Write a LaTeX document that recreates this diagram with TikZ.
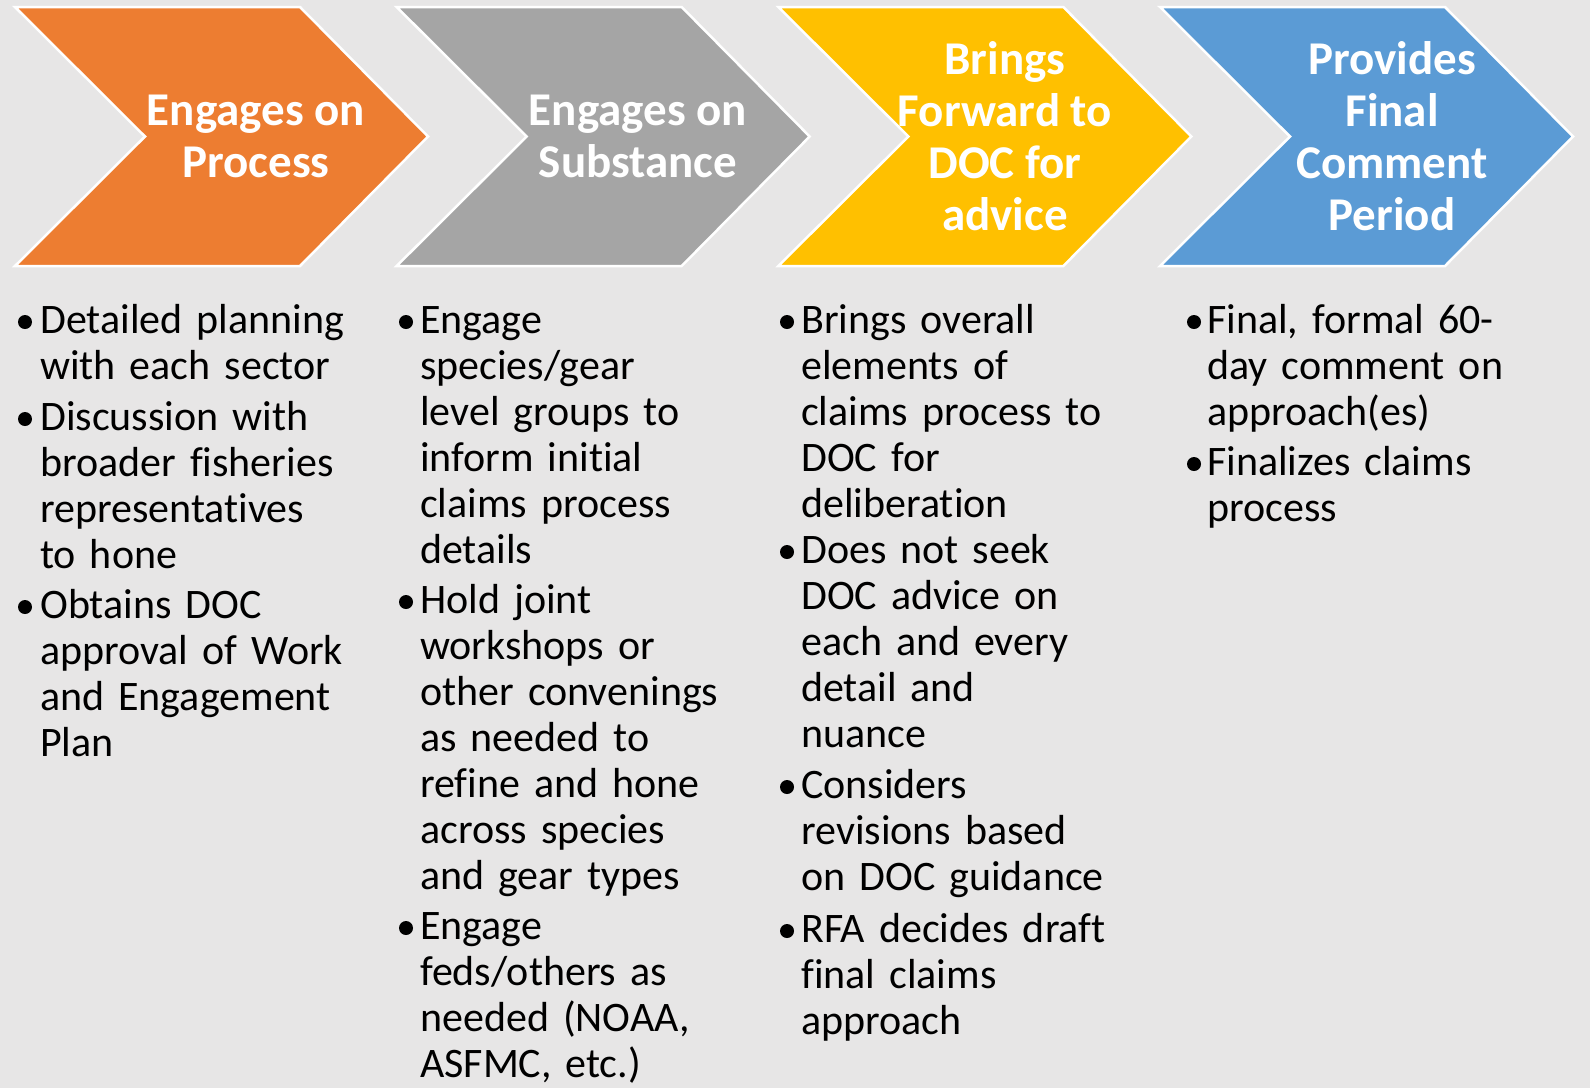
\documentclass[tikz,border=0pt]{standalone}
\usepackage{fontspec}
\setmainfont{Carlito}[Ligatures={NoCommon,NoRare,NoContextual}]
\definecolor{bgGray}{HTML}{E7E6E6}
\definecolor{chevOrange}{HTML}{ED7D31}
\definecolor{chevGray}{HTML}{A5A5A5}
\definecolor{chevGold}{HTML}{FFC000}
\definecolor{chevBlue}{HTML}{5B9BD5}

\begin{document}
\begin{tikzpicture}[x=1pt, y=-1pt,
    chev/.style={draw=white, line width=2.5pt, line join=miter},
    head/.style={text=white, align=center, inner sep=0pt, font=\bfseries\fontsize{47}{52}\selectfont},
    item/.style={anchor=base west, inner sep=0pt, text width=380pt, align=left, font=\fontsize{42}{46}\selectfont},
    dot/.style={circle, fill=black, inner sep=0pt, minimum size=14pt}]
            \fill[bgGray] (0,0) rectangle (1590,1088);
            \useasboundingbox (0,0) rectangle (1590,1088);
            \foreach \col [count=\i from 0] in {chevOrange,chevGray,chevGold,chevBlue}
                \draw[chev, fill=\col] ({15+381.67*\i},7) -- ++(285,0) -- ++(128,129.5) -- ++(-128,129.5) -- ++(-285,0) -- ++(130,-129.5) -- cycle;
            \node[head] (h1) at (256,136) {Engages on\\Process};
            \node[head] (h2) at (638,136) {Engages on\\Substance};
            \node[head] (h3) at (1005,136) {Brings\\Forward to\\DOC for\\advice};
            \node[head] (h4) at (1392,136) {Provides\\Final\\Comment\\Period};
            \node[dot] (d11) at (25,322) {};
            \node[item] (t11) at (40,333) {Detailed planning\\with each sector};
            \node[dot] (d12) at (25,419) {};
            \node[item] (t12) at (40,430) {Discussion with\\broader fisheries\\representatives\\to hone};
            \node[dot] (d13) at (25,607) {};
            \node[item] (t13) at (40,618) {Obtains DOC\\approval of Work\\and Engagement\\Plan};
            \node[dot] (d21) at (406,322) {};
            \node[item] (t21) at (420,333) {Engage\\species/gear\\level groups to\\inform initial\\claims process\\details};
            \node[dot] (d22) at (406,602) {};
            \node[item] (t22) at (420,613) {Hold joint\\workshops or\\other convenings\\as needed to\\refine and hone\\across species\\and gear types};
            \node[dot] (d23) at (406,928) {};
            \node[item] (t23) at (420,939) {Engage\\feds/others as\\needed (NOAA,\\ASFMC, etc.)};
            \node[dot] (d31) at (787,322) {};
            \node[item] (t31) at (801,333) {Brings overall\\elements of\\claims process to\\DOC for\\deliberation};
            \node[dot] (d32) at (787,552) {};
            \node[item] (t32) at (801,563) {Does not seek\\DOC advice on\\each and every\\detail and\\nuance};
            \node[dot] (d33) at (787,787) {};
            \node[item] (t33) at (801,798) {Considers\\revisions based\\on DOC guidance};
            \node[dot] (d34) at (787,931) {};
            \node[item] (t34) at (801,942) {RFA decides draft\\final claims\\approach};
            \node[dot] (d41) at (1194,322) {};
            \node[item] (t41) at (1207,333) {Final, formal 60-\\day comment on\\approach(es)};
            \node[dot] (d42) at (1194,464) {};
            \node[item] (t42) at (1207,475) {Finalizes claims\\process};
        \end{tikzpicture}
\end{document}
